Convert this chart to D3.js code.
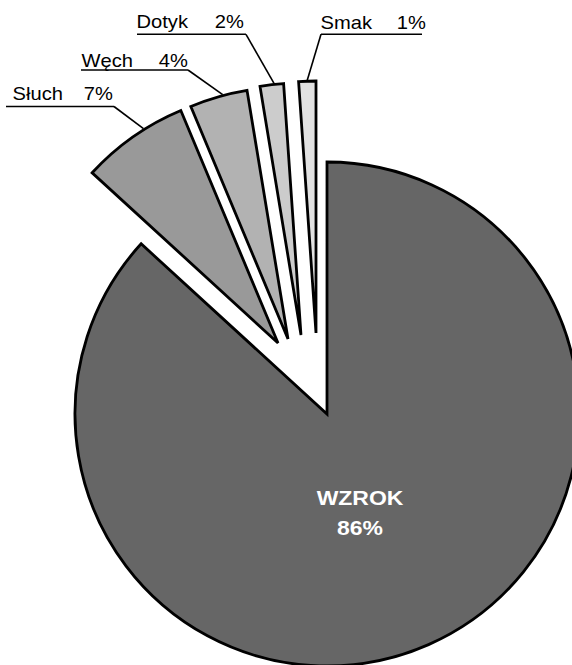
<!DOCTYPE html>
<html><head><meta charset="utf-8">
<script src="https://cdn.jsdelivr.net/npm/d3@7"></script>
<style>html,body{margin:0;padding:0;background:#fff;overflow:hidden}</style>
</head><body><svg id="chart" width="572" height="665"></svg>
<script>
// ---- data ----
const categories = ["WZROK", "Słuch", "Węch", "Dotyk", "Smak"];
const values = [86.8, 6.9, 3.7, 1.5, 1.1];
const percentLabels = ["86%", "7%", "4%", "2%", "1%"];

// ---- style / layout ----
const colors = ["#666666", "#999999", "#b2b2b2", "#cccccc", "#e2e2e2"];
const center = [327, 414];
const radius = 252;
const explodeOffsets = [[0, 0], [-49, -71], [-39, -75], [-26, -79], [-11, -81]];
const labelLayout = [
  null,
  {nameX: 12.5, baseY: 100, pctX: 113, lineY: 106.5, x0: 6, x1: 114, elbowX: 114, anchor: 0.62},
  {nameX: 81.5, baseY: 66.7, pctX: 188, lineY: 70, x0: 81, x1: 188, elbowX: 188, anchor: 0.58},
  {nameX: 136.5, baseY: 27.7, pctX: 244, lineY: 34.3, x0: 137, x1: 246, elbowX: 246, anchor: 0.6},
  {nameX: 320.5, baseY: 28.5, pctX: 426, lineY: 34.3, x0: 321, x1: 422, elbowX: 321, anchor: 0.5}
];
const stretch = 1.12;

const svg = d3.select("#chart");
const pie = d3.pie().sort(null).value(d => d).startAngle(0).endAngle(2 * Math.PI);
const arcs = pie(values);
const arc = d3.arc().innerRadius(0).outerRadius(radius);

const g = svg.append("g").attr("transform", `translate(${center[0]},${center[1]})`);

g.selectAll("path.slice").data(arcs).join("path")
  .attr("class", "slice")
  .attr("transform", (d, i) => `translate(${explodeOffsets[i][0]},${explodeOffsets[i][1]})`)
  .attr("d", arc)
  .attr("fill", (d, i) => colors[i])
  .attr("stroke", "#000")
  .attr("stroke-width", 2.8)
  .attr("stroke-linejoin", "miter");

// leader lines & labels for small slices
arcs.forEach((d, i) => {
  const L = labelLayout[i];
  if (!L) return;
  const a = d.startAngle + (d.endAngle - d.startAngle) * L.anchor;
  const px = center[0] + explodeOffsets[i][0] + (radius + 1) * Math.sin(a);
  const py = center[1] + explodeOffsets[i][1] - (radius + 1) * Math.cos(a);
  svg.append("line")
    .attr("x1", L.x0).attr("x2", L.x1).attr("y1", L.lineY).attr("y2", L.lineY)
    .attr("stroke", "#000").attr("stroke-width", 1.6);
  svg.append("line")
    .attr("x1", L.elbowX).attr("y1", L.lineY).attr("x2", px).attr("y2", py)
    .attr("stroke", "#000").attr("stroke-width", 1.6);
  svg.append("text")
    .attr("transform", `translate(${L.nameX},${L.baseY}) scale(${stretch},1)`)
    .attr("font-family", "'Liberation Sans', Arial, sans-serif")
    .attr("font-size", 18)
    .attr("fill", "#000")
    .text(categories[i]);
  svg.append("text")
    .attr("transform", `translate(${L.pctX},${L.baseY}) scale(${stretch},1)`)
    .attr("font-family", "'Liberation Sans', Arial, sans-serif")
    .attr("font-size", 18)
    .attr("text-anchor", "end")
    .attr("fill", "#000")
    .text(percentLabels[i]);
});

// main slice label
const mainLabelPos = [360, 505];
const mainText = svg.append("text")
  .attr("transform", `translate(${mainLabelPos[0]},${mainLabelPos[1]}) scale(${stretch},1)`)
  .attr("font-family", "'Liberation Sans', Arial, sans-serif")
  .attr("font-size", 20.5)
  .attr("font-weight", "bold")
  .attr("fill", "#fff")
  .attr("text-anchor", "middle");
mainText.append("tspan").attr("x", 0).attr("y", 0).text(categories[0]);
mainText.append("tspan").attr("x", 0).attr("y", 30).text(percentLabels[0]);
</script>
</body></html>
